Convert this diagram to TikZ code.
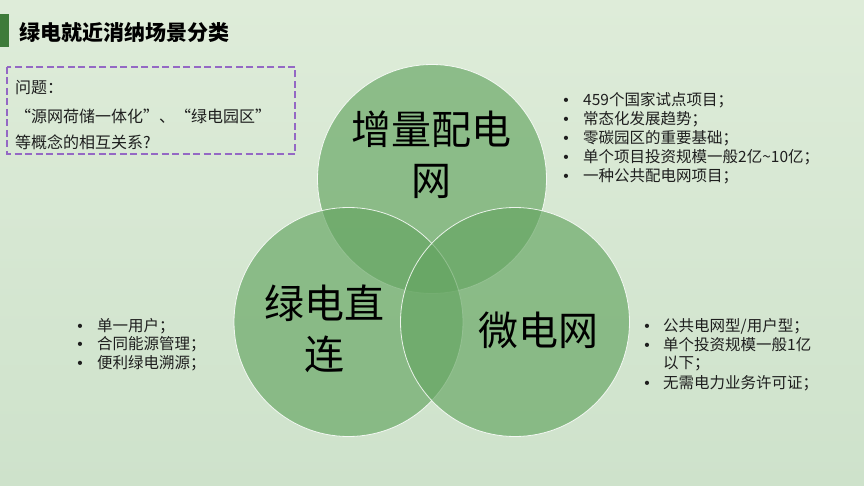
\documentclass[tikz,border=0pt]{standalone}
\usepackage{fontspec}
\setmainfont{Noto Sans CJK SC}
\newfontfamily\bulletfont{Liberation Sans}
\definecolor{bgtop}{HTML}{DEECD9}
\definecolor{bgbot}{HTML}{CEE2CB}
\definecolor{circgreen}{HTML}{66A663}
\definecolor{bargreen}{HTML}{3E7B3A}
\definecolor{dashpurple}{HTML}{9468C4}
\definecolor{txtgray}{HTML}{1E1E1E}
\begin{document}
\begin{tikzpicture}[x=1pt,y=-1pt,
  circ/.style={circle, fill=circgreen, fill opacity=0.67, draw=white, draw opacity=0.85, line width=0.8pt, minimum size=229pt, inner sep=0pt},
  biglabel/.style={inner sep=0pt, align=center, text=black, font=\fontsize{40}{51}\selectfont},
  item/.style={anchor=base west, inner sep=0pt, text=txtgray, font=\fontsize{15.5}{19}\selectfont},
  dot/.style={anchor=base, inner sep=0pt, text=txtgray, font=\bulletfont\fontsize{15.5}{19}\selectfont},
  boxtext/.style={anchor=base west, inner sep=0pt, text=txtgray, font=\fontsize{16}{19}\selectfont}]
\useasboundingbox (0,0) rectangle (864,486);
\shade[top color=bgtop, bottom color=bgbot] (0,0) rectangle (864,486);

% title
\fill[bargreen] (0,14) rectangle (9,47);
\node[anchor=west, inner sep=0pt, text=black, font=\fontsize{21}{24}\selectfont\bfseries] (title) at (19,33) {绿电就近消纳场景分类};

% question box
\draw[dashpurple, line width=1.6pt, dash pattern=on 7pt off 3.5pt] (7,67) rectangle (295,154);
\node[boxtext] (q1) at (15,94) {问题：};
\node[boxtext] (q2) at (15,123) {“源网荷储一体化”、“绿电园区”};
\node[boxtext] (q3) at (15,149) {等概念的相互关系?};

% circles
\node[circ] (ctop) at (432,179) {};
\node[circ] (cleft) at (348.5,322) {};
\node[circ] (cright) at (515,322) {};

\node[biglabel] (ltop) at (431,155) {增量配电\\网};
\node[biglabel] (lleft) at (324,329) {绿电直\\连};
\node[biglabel] (lright) at (538,330) {微电网};

% top right list
\foreach \y/\t [count=\i] in {100/{459个国家试点项目；}, 118.8/{常态化发展趋势；}, 137.6/{零碳园区的重要基础；}, 156.4/{单个项目投资规模一般2亿{\char"007E}10亿；}, 175.2/{一种公共配电网项目；}}{
  \node[dot] (trb\i) at (566,\y+6) {•};
  \node[item] (trt\i) at (583,\y+6) {\t};
}

% left list
\foreach \y/\t [count=\i] in {325/{单一用户；}, 343.5/{合同能源管理；}, 362/{便利绿电溯源；}}{
  \node[dot] (lb\i) at (80,\y+6) {•};
  \node[item] (lt\i) at (97,\y+6) {\t};
}

% right list
\node[dot] (rb1) at (647,331) {•};
\node[item] (rt1) at (663,331) {公共电网型/用户型；};
\node[dot] (rb2) at (647,350) {•};
\node[item] (rt2) at (663,350) {单个投资规模一般1亿};
\node[item] (rt3) at (663,368.5) {以下；};
\node[dot] (rb4) at (647,388) {•};
\node[item] (rt4) at (663,388) {无需电力业务许可证；};
\end{tikzpicture}
\end{document}
